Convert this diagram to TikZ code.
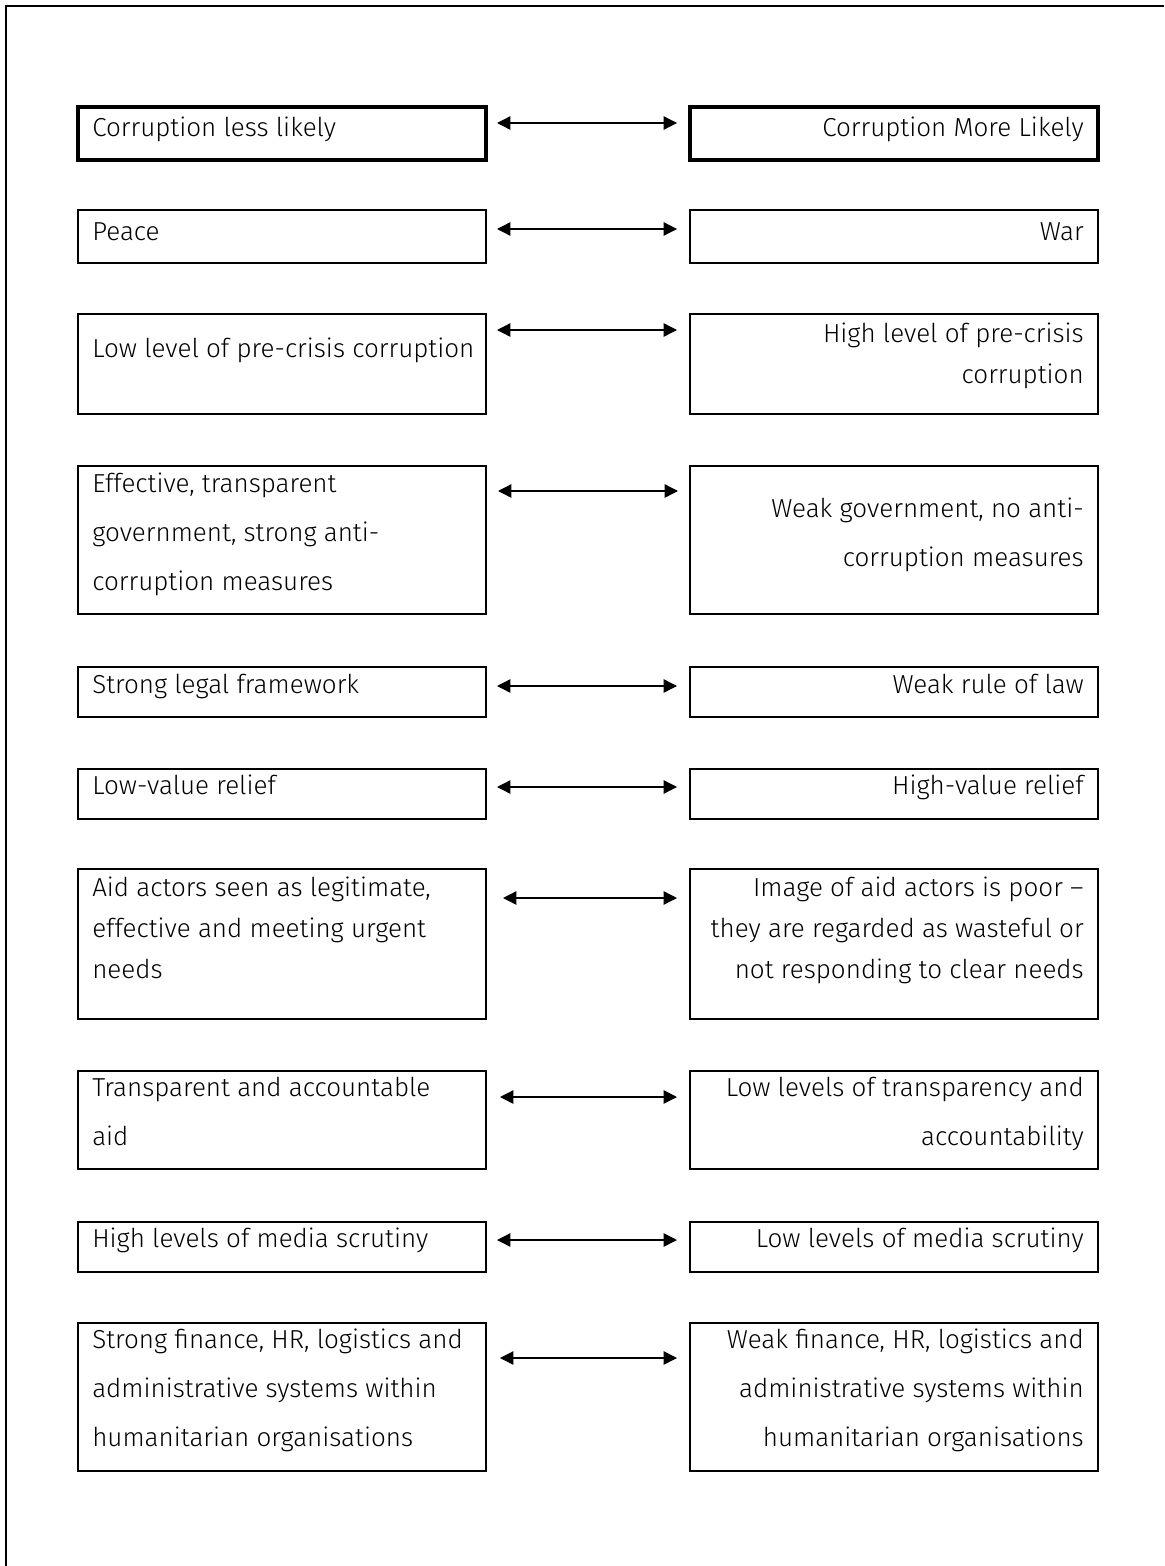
\documentclass[tikz,border=0pt]{standalone}
\usepackage{fontspec}
\setmainfont{Fira Sans}[UprightFont=* Light]
\usetikzlibrary{arrows.meta}

\tikzset{
  cell/.style={draw, line width=1.5pt, anchor=north west, minimum width=306pt, inner sep=0pt, outer sep=0pt},
  headcell/.style={cell, line width=3pt},
  ltxt/.style={anchor=base west, inner sep=0pt, align=left, font=\fontsize{19.5}{36.75}\selectfont},
  rtxt/.style={anchor=base east, inner sep=0pt, align=right, font=\fontsize{19.5}{36.75}\selectfont},
  tight/.style={font=\fontsize{19.5}{30.5}\selectfont},
  link/.style={{Triangle[length=10pt,width=10pt]}-{Triangle[length=10pt,width=10pt]}, line width=1pt}
}

\begin{document}
\begin{tikzpicture}[x=0.75pt,y=0.75pt,yscale=-1,xscale=1]
  \useasboundingbox (0,0) rectangle (1164,1566);

  %Frame
  \draw [line width=1.5pt] (6,1566) -- (6,6) -- (1164,6) ;

  %Row 1
  \node [headcell, minimum height=39.75pt] (l1) at (78,107) {};
  \node [headcell, minimum height=39.75pt] (r1) at (690,107) {};
  \draw (92,137) node [ltxt] (lt1) {Corruption less likely};
  \draw (1084,137) node [rtxt] (rt1) {Corruption More Likely};
  \draw [link] ([shift={(11,16)}]l1.north east) -- ([shift={(-13,16)}]r1.north west) ;

  %Row 2
  \node [cell, minimum height=39.75pt] (l2) at (78,210) {};
  \node [cell, minimum height=39.75pt] (r2) at (690,210) {};
  \draw (92,240) node [ltxt] (lt2) {Peace};
  \draw (1084,240) node [rtxt] (rt2) {War};
  \draw [link] ([shift={(11,19)}]l2.north east) -- ([shift={(-13,19)}]r2.north west) ;

  %Row 3 (base = last line)
  \node [cell, minimum height=75pt] (l3) at (78,314) {};
  \node [cell, minimum height=75pt] (r3) at (690,314) {};
  \draw (92,357) node [ltxt] (lt3) {Low level of pre-crisis corruption};
  \draw (1084,383) node [rtxt, tight] (rt3) {High level of pre-crisis\\corruption};
  \draw [link] ([shift={(11,16)}]l3.north east) -- ([shift={(-13,16)}]r3.north west) ;

  %Row 4
  \node [cell, minimum height=111pt] (l4) at (78,466) {};
  \node [cell, minimum height=111pt] (r4) at (690,466) {};
  \draw (92,590) node [ltxt] (lt4) {Effective, transparent\\government, strong anti-\\corruption measures};
  \draw (1084,566) node [rtxt] (rt4) {Weak government, no anti-\\corruption measures};
  \draw [link] ([shift={(12,25)}]l4.north east) -- ([shift={(-12,25)}]r4.north west) ;

  %Row 5
  \node [cell, minimum height=37.5pt] (l5) at (78,667) {};
  \node [cell, minimum height=37.5pt] (r5) at (690,667) {};
  \draw (92,693) node [ltxt] (lt5) {Strong legal framework};
  \draw (1084,693) node [rtxt] (rt5) {Weak rule of law};
  \draw [link] ([shift={(11,19)}]l5.north east) -- ([shift={(-13,19)}]r5.north west) ;

  %Row 6
  \node [cell, minimum height=37.5pt] (l6) at (78,769) {};
  \node [cell, minimum height=37.5pt] (r6) at (690,769) {};
  \draw (92,794) node [ltxt] (lt6) {Low-value relief};
  \draw (1084,794) node [rtxt] (rt6) {High-value relief};
  \draw [link] ([shift={(11,18)}]l6.north east) -- ([shift={(-13,18)}]r6.north west) ;

  %Row 7
  \node [cell, minimum height=112.5pt] (l7) at (78,869) {};
  \node [cell, minimum height=112.5pt] (r7) at (690,869) {};
  \draw (92,978) node [ltxt, tight] (lt7) {Aid actors seen as legitimate,\\effective and meeting urgent\\needs};
  \draw (1084,978) node [rtxt, tight] (rt7) {Image of aid actors is poor --\\they are regarded as wasteful or\\not responding to clear needs};
  \draw [link] ([shift={(17,29)}]l7.north east) -- ([shift={(-13,29)}]r7.north west) ;

  %Row 8
  \node [cell, minimum height=73.5pt] (l8) at (78,1071) {};
  \node [cell, minimum height=73.5pt] (r8) at (690,1071) {};
  \draw (92,1145) node [ltxt] (lt8) {Transparent and accountable\\aid};
  \draw (1084,1145) node [rtxt] (rt8) {Low levels of transparency and\\accountability};
  \draw [link] ([shift={(14,26)}]l8.north east) -- ([shift={(-13,26)}]r8.north west) ;

  %Row 9
  \node [cell, minimum height=37.5pt] (l9) at (78,1222) {};
  \node [cell, minimum height=37.5pt] (r9) at (690,1222) {};
  \draw (92,1247) node [ltxt] (lt9) {High levels of media scrutiny};
  \draw (1084,1247) node [rtxt] (rt9) {Low levels of media scrutiny};
  \draw [link] ([shift={(11,18)}]l9.north east) -- ([shift={(-13,18)}]r9.north west) ;

  %Row 10
  \node [cell, minimum height=111pt] (l10) at (78,1323) {};
  \node [cell, minimum height=111pt] (r10) at (690,1323) {};
  \draw (92,1446) node [ltxt] (lt10) {Strong finance, HR, logistics and\\administrative systems within\\humanitarian organisations};
  \draw (1084,1446) node [rtxt] (rt10) {Weak finance, HR, logistics and\\administrative systems within\\humanitarian organisations};
  \draw [link] ([shift={(14,35)}]l10.north east) -- ([shift={(-13,35)}]r10.north west) ;

\end{tikzpicture}
\end{document}
